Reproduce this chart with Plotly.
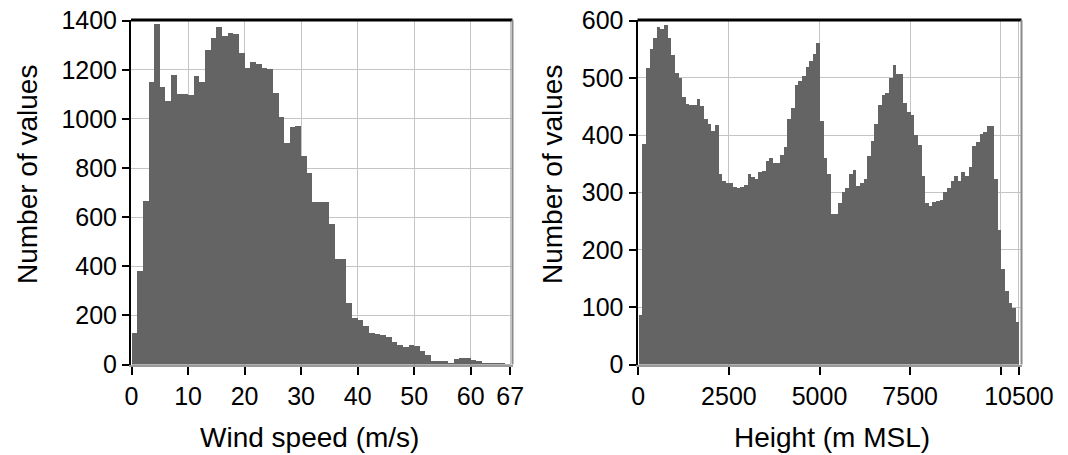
import plotly.graph_objects as go

# histogram counts
# wind speed: 1 m/s bins from 0 to 67
wind_edges = list(range(0, 67))
wind_counts = [130, 380, 665, 1150, 1388, 1132, 1073, 1180, 1102, 1102,
               1097, 1175, 1152, 1282, 1331, 1373, 1336, 1350, 1345, 1268,
               1207, 1231, 1224, 1209, 1205, 1105, 1009, 901, 969, 973,
               850, 778, 662, 662, 662, 574, 431, 431, 252, 189,
               182, 156, 129, 125, 122, 111, 91, 80, 71, 78,
               74, 57, 37, 16, 16, 16, 8, 23, 27, 27,
               19, 16, 8, 6, 4, 3, 2]

# height: 100 m bins from 0 to 10500 m MSL
height_edges = list(range(0, 10500, 100))
height_counts = [86, 384, 517, 551, 569, 588, 586, 593, 570, 540,
                 508, 499, 467, 455, 453, 453, 464, 451, 429, 420,
                 407, 417, 332, 320, 317, 316, 310, 308, 310, 314,
                 332, 327, 324, 336, 337, 355, 361, 351, 351, 365,
                 379, 429, 448, 487, 495, 503, 519, 530, 542, 561,
                 425, 361, 332, 262, 262, 281, 301, 308, 332, 339,
                 312, 317, 324, 363, 390, 420, 453, 470, 473, 500,
                 522, 507, 507, 457, 441, 435, 400, 383, 329, 281,
                 277, 284, 285, 287, 301, 308, 320, 328, 321, 335,
                 328, 345, 381, 388, 403, 406, 416, 416, 324, 234,
                 167, 128, 108, 98, 75]

wind_ticks = [0, 10, 20, 30, 40, 50, 60, 67]
wind_yticks = [0, 200, 400, 600, 800, 1000, 1200, 1400]
height_ticks = [0, 2500, 5000, 7500, 10000, 10500]
height_ticklabels = ["0", "2500", "5000", "7500", "", "10500"]
height_yticks = [0, 100, 200, 300, 400, 500, 600]

# the page body keeps its default 8px margin, so the figure is 8px smaller
PAGE_OFF = 8
W, H = 1068 - PAGE_OFF, 455 - PAGE_OFF
bar_color = "#646464"
grid_color = "#c4c4c4"
font = "Liberation Sans, Arial, sans-serif"

fig = go.Figure()
fig.add_trace(go.Bar(x=wind_edges, y=wind_counts, width=1, offset=0,
                     marker=dict(color=bar_color, line=dict(width=0)),
                     xaxis="x", yaxis="y", showlegend=False))
fig.add_trace(go.Bar(x=height_edges, y=height_counts, width=100, offset=0,
                     marker=dict(color=bar_color, line=dict(width=0)),
                     xaxis="x2", yaxis="y2", showlegend=False))

# screen pixel -> paper fraction
def px_x(p):
    return (p - PAGE_OFF) / W

def px_y(p):
    return 1 - (p - PAGE_OFF) / H

y_dom = [px_y(364.5), px_y(20)]

common_x = dict(showgrid=True, gridcolor=grid_color, gridwidth=1,
                showline=True, linecolor="#9a9a9a", linewidth=2,
                ticks="outside", ticklen=8, tickwidth=2, tickcolor="black",
                tickfont=dict(size=25, color="black", family=font),
                ticklabeloverflow="allow",
                zeroline=False, fixedrange=True, automargin=False)
common_y = dict(showgrid=True, gridcolor=grid_color, gridwidth=1,
                showline=True, linecolor="black", linewidth=2,
                ticks="outside", ticklen=7, tickwidth=2, tickcolor="black",
                tickfont=dict(size=25, color="black", family=font),
                ticklabeloverflow="allow",
                zeroline=False, fixedrange=True, automargin=False)

fig.update_layout(
    width=W, height=H,
    margin=dict(l=0, r=0, t=0, b=0, autoexpand=False),
    paper_bgcolor="white", plot_bgcolor="white",
    bargap=0,
    xaxis=dict(domain=[px_x(131), px_x(512.5)], range=[-0.1, 67.4],
               tickvals=wind_ticks, anchor="y", **common_x),
    yaxis=dict(domain=y_dom, range=[0, 1403], tickvals=wind_yticks,
               anchor="x", **common_y),
    xaxis2=dict(domain=[px_x(637.5), px_x(1021.5)], range=[-20, 10570],
                tickvals=height_ticks, ticktext=height_ticklabels,
                anchor="y2", **common_x),
    yaxis2=dict(domain=y_dom, range=[0, 601], tickvals=height_yticks,
                anchor="x2", **common_y),
)

# frame: thick black top, grey right
for xr, yr in (("x domain", "y domain"), ("x2 domain", "y2 domain")):
    fig.add_shape(type="line", xref=xr, yref=yr, x0=0, x1=1, y0=1, y1=1,
                  line=dict(color="black", width=3))
    fig.add_shape(type="line", xref=xr, yref=yr, x0=1, x1=1, y0=0, y1=1,
                  line=dict(color="#8a8a8a", width=2))

# axis titles
titles = [
    ("Wind speed (m/s)", px_x(309), px_y(437), 0),
    ("Height (m MSL)", px_x(832), px_y(437), 0),
    ("Number of values", px_x(27), px_y(175), -90),
    ("Number of values", px_x(552), px_y(175), -90),
]
for text, x, y, ang in titles:
    fig.add_annotation(text=text, x=x, y=y, xref="paper", yref="paper",
                       xanchor="center", yanchor="middle", showarrow=False,
                       textangle=ang, font=dict(size=28, color="black", family=font))

fig.write_html("out.html")
